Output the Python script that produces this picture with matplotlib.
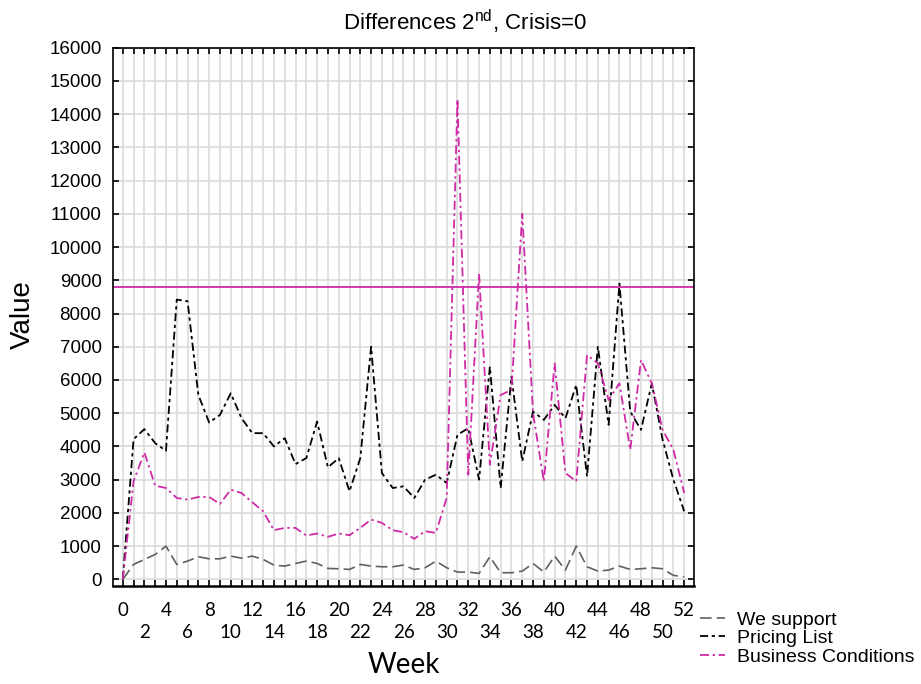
import numpy as np
import matplotlib
matplotlib.use("Agg")
import matplotlib.pyplot as plt

weeks = list(range(53))

# values
we_support = [0, 450, 600, 750, 1000, 450, 550, 680, 620, 620,
              700, 640, 700, 600, 430, 400, 480, 550, 480, 330,
              320, 300, 450, 400, 380, 380, 430, 300, 350, 550,
              350, 220, 220, 180, 680, 200, 200, 250, 480, 220,
              700, 280, 1000, 380, 250, 280, 400, 300, 320, 350,
              320, 120, 80]
pricing_list = [0, 4220, 4520, 4100, 3870, 8420, 8370, 5550, 4720, 4950,
                5600, 4850, 4400, 4400, 4000, 4250, 3470, 3650, 4750, 3370,
                3650, 2650, 3650, 7000, 3200, 2750, 2800, 2450, 3000, 3150,
                2900, 4350, 4550, 3000, 6400, 2750, 6100, 3550, 5050, 4800,
                5250, 4850, 5850, 3100, 7000, 4650, 8900, 5050, 4500, 5900,
                4200, 3000, 2050]
business_conditions = [0, 2950, 3820, 2820, 2750, 2450, 2400, 2480, 2480, 2270,
                       2700, 2600, 2320, 2050, 1480, 1550, 1550, 1320, 1380, 1280,
                       1380, 1330, 1550, 1800, 1700, 1480, 1420, 1220, 1450, 1400,
                       2450, 14450, 3150, 9200, 3450, 5550, 5700, 11000, 5000, 2950,
                       6500, 3200, 2950, 6750, 6500, 5400, 5900, 3900, 6600, 5900,
                       4500, 3900, 2600]
ref_level = 8800

magenta = "#cf2aa6"

plt.rcParams['font.family'] = ['Liberation Sans', 'DejaVu Sans']
plt.rcParams['mathtext.default'] = 'regular'

fig = plt.figure(figsize=(9.21, 6.84), dpi=100)
ax = fig.add_axes([0.1224, 0.1437, 0.6314, 0.7866])

ax.plot(weeks, we_support, color="#606060", lw=1.2, dashes=(7, 3),
        label="We support")
ax.plot(weeks, pricing_list, color="black", lw=1.3, dashes=(4.5, 2, 1.8, 2),
        label="Pricing List")
ax.plot(weeks, business_conditions, color=magenta, lw=1.3,
        dashes=(5, 2, 1.3, 2), label="Business Conditions")
ax.axhline(ref_level, color=magenta, lw=1.3)

ax.set_xlim(-0.93, 52.93)
ax.set_ylim(-190, 16000)

ax.set_xticks(weeks)
xlabels = []
for w in weeks:
    if w % 4 == 0:
        xlabels.append(str(w))
    elif w % 2 == 0:
        xlabels.append("\n" + str(w))
    else:
        xlabels.append("")
ax.set_xticklabels(xlabels, fontfamily=['Lato', 'DejaVu Sans'], fontsize=13.5,
                   linespacing=1.3)
ax.set_yticks(range(0, 16001, 1000))
ax.tick_params(axis='y', labelsize=13.5, pad=8)
ax.tick_params(direction='in', length=4, width=1.2, top=True, right=True)
ax.tick_params(axis='x', pad=12)

ax.grid(True, color="#dcdcdc", lw=1.2)
ax.set_axisbelow(True)
for s in ax.spines.values():
    s.set_linewidth(1.2)
ax.spines['bottom'].set_linewidth(1.8)

fig.text(465 / 921, 1 - 22 / 684, "Differences 2$^{nd}$, Crisis=0",
         ha='center', va='center', fontsize=16)
fig.text(23 / 921, 1 - 315 / 684, "Value", rotation=90, ha='center',
         va='center', fontsize=20)
fig.text(403.5 / 921, 1 - 665 / 684, "Week", ha='center', va='center',
         fontsize=20, family=['Lato', 'DejaVu Sans'])

fig.legend(loc='upper left', bbox_to_anchor=(700 / 921, 1 - 611 / 684),
           frameon=False, fontsize=14, handlelength=1.3, handletextpad=0.6,
           labelspacing=0.05, borderpad=0, borderaxespad=0)

fig.savefig("out.png", dpi=100)
